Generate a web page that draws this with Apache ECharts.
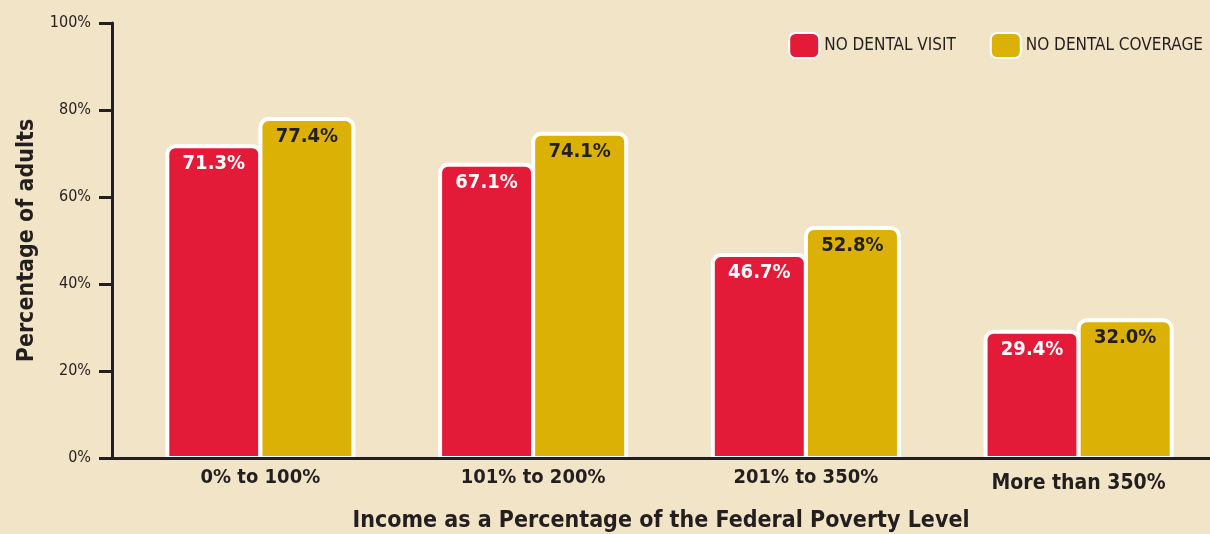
<!DOCTYPE html>
<html>
<head>
<meta charset="utf-8">
<script src="https://cdn.jsdelivr.net/npm/echarts@6/dist/echarts.min.js"></script>
<style>
  html, body { margin: 0; padding: 0; background: #f2e4c6; }
  #chart { width: 1210px; height: 534px; }
</style>
</head>
<body>
<div id="chart"></div>
<script>
  // data
  const categories = ['0% to 100%', '101% to 200%', '201% to 350%', 'More than 350%']
  const noVisit = [71.3, 67.1, 46.7, 29.4] // NO DENTAL VISIT
  const noCoverage = [77.4, 74.1, 52.8, 32.0] // NO DENTAL COVERAGE
  const yTicks = [0, 20, 40, 60, 80, 100]

  const FONT = "'Liberation Sans Narrow', 'DejaVu Sans Condensed', 'Roboto', sans-serif"
  const DARK = '#231f20'
  const RED = '#e41a39'
  const GOLD = '#dbb106'

  const chart = echarts.init(document.getElementById('chart'))

  const barLabel = (color) => ({
    show: true,
    position: 'insideTop',
    distance: 10,
    color: color,
    fontFamily: FONT,
    fontWeight: 'bold',
    fontSize: 20,
    formatter: (p) => p.value.toFixed(1) + '%'
  })

  chart.setOption({
    backgroundColor: '#f2e4c6',
    textStyle: { fontFamily: FONT },
    legend: {
      right: 2,
      top: 27,
      itemWidth: 30,
      itemHeight: 25,
      itemGap: 34,
      icon: 'roundRect',
      textStyle: { color: DARK, fontSize: 17, fontFamily: FONT },
      data: ['NO DENTAL VISIT', 'NO DENTAL COVERAGE']
    },
    grid: [
      // frame: y axis + x axis line
      { left: 112, right: 0, top: 23, bottom: 76, outerBoundsMode: 'none' },
      // bars + category labels (white border sits outside the bar, bottom edge tucked under the axis)
      { left: 124, right: -5, top: 17, bottom: 74, outerBoundsMode: 'none' }
    ],
    xAxis: [
      {
        gridIndex: 0,
        type: 'value',
        min: 0,
        max: 1,
        z: 5,
        axisLine: { show: true, lineStyle: { color: DARK, width: 3 } },
        axisTick: { show: false },
        axisLabel: { show: false },
        splitLine: { show: false },
        name: 'Income as a Percentage of the Federal Poverty Level',
        nameLocation: 'middle',
        nameGap: 52,
        nameTextStyle: { color: DARK, fontSize: 23, fontWeight: 'bold', fontFamily: FONT }
      },
      {
        gridIndex: 1,
        type: 'category',
        data: categories,
        axisLine: { show: false },
        axisTick: { show: false },
        axisLabel: {
          interval: 0,
          color: DARK,
          fontSize: 20,
          fontWeight: 'bold',
          margin: 8,
          fontFamily: FONT,
          formatter: (v, i) => (i === 3 ? '{last|' + v + '}' : v),
          rich: { last: { fontSize: 21, fontWeight: 'bold', color: DARK, fontFamily: FONT, padding: [5, 0, 0, 0] } }
        }
      }
    ],
    yAxis: [
      {
        gridIndex: 0,
        type: 'value',
        min: 0,
        max: 100,
        interval: 20,
        axisLine: { show: true, lineStyle: { color: DARK, width: 3 } },
        axisTick: { show: true, length: 13, lineStyle: { color: DARK, width: 3 } },
        axisLabel: {
          color: DARK,
          fontSize: 16,
          margin: 21,
          fontFamily: FONT,
          formatter: (v) => (yTicks.includes(v) ? v + '%' : '')
        },
        splitLine: { show: false },
        name: 'Percentage of adults',
        nameLocation: 'middle',
        nameGap: 72,
        nameTextStyle: { color: DARK, fontSize: 23, fontWeight: 'bold', fontFamily: FONT }
      },
      {
        gridIndex: 1,
        type: 'value',
        min: 0,
        max: 100,
        show: false
      }
    ],
    series: [
      {
        name: 'NO DENTAL VISIT',
        type: 'bar',
        xAxisIndex: 1,
        yAxisIndex: 1,
        data: noVisit,
        barWidth: 97,
        barGap: '-4%',
        itemStyle: { color: RED, borderColor: '#ffffff', borderWidth: 4, borderRadius: [8, 8, 0, 0] },
        label: barLabel('#ffffff')
      },
      {
        name: 'NO DENTAL COVERAGE',
        type: 'bar',
        xAxisIndex: 1,
        yAxisIndex: 1,
        data: noCoverage,
        barWidth: 97,
        itemStyle: { color: GOLD, borderColor: '#ffffff', borderWidth: 4, borderRadius: [8, 8, 0, 0] },
        label: barLabel(DARK)
      }
    ]
  })
</script>
</body>
</html>
